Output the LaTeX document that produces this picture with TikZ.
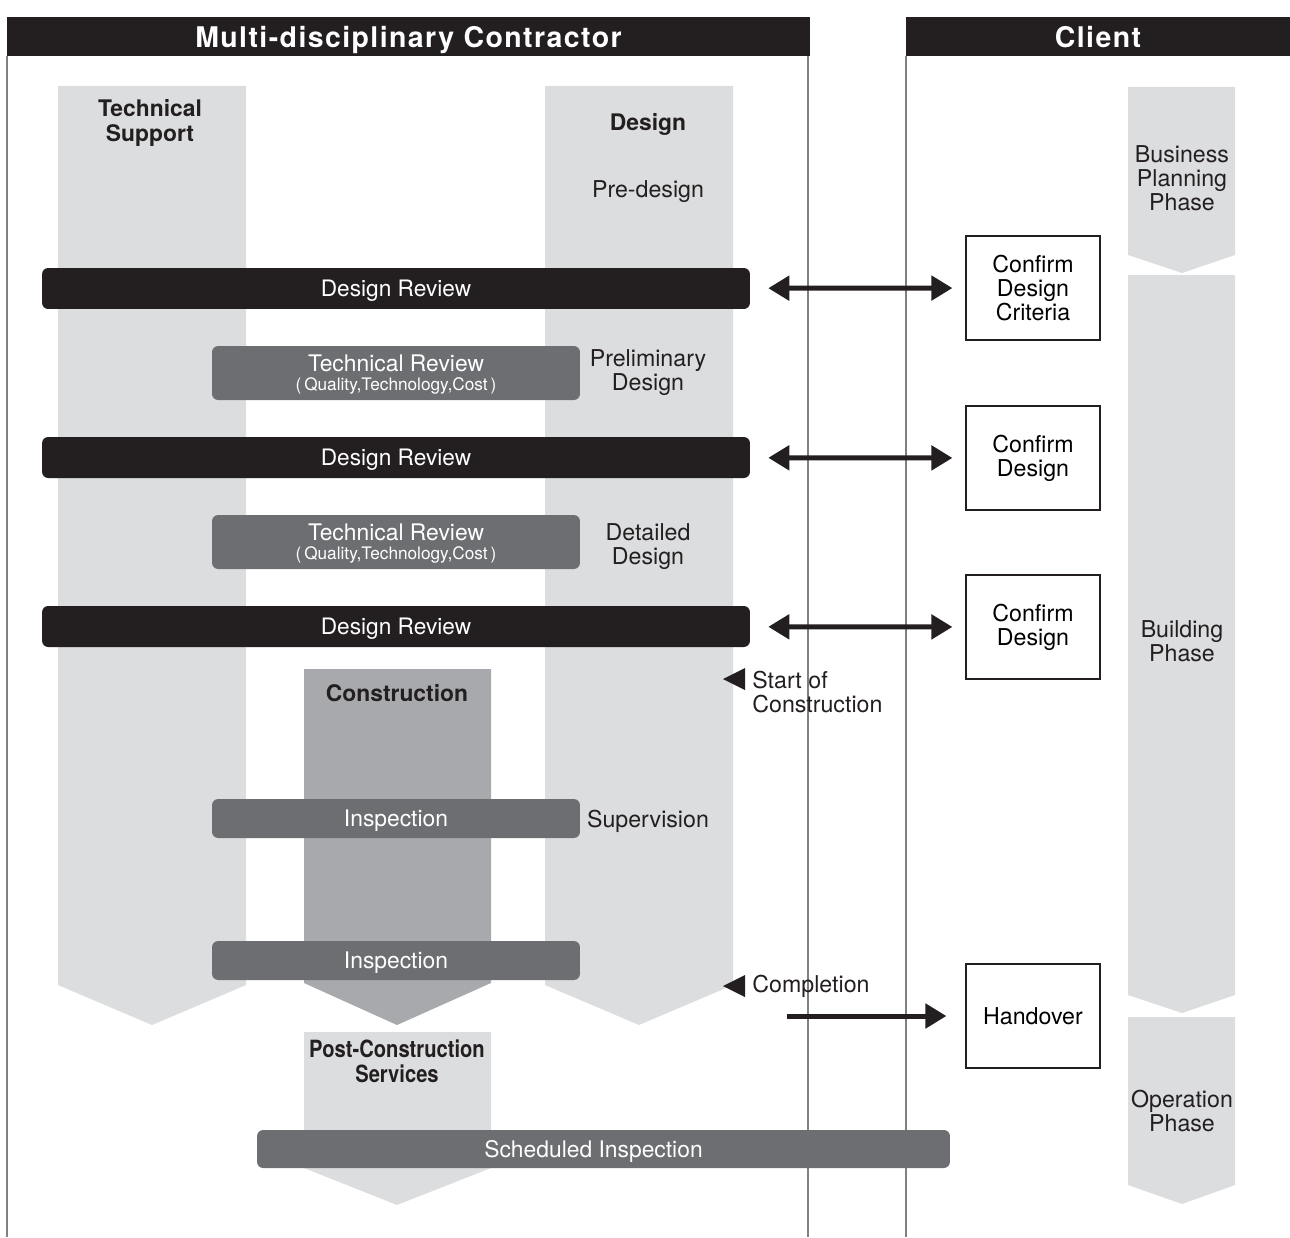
\documentclass[tikz,border=0pt]{standalone}
\usepackage{fontspec}
\setmainfont{TeX Gyre Heros}
\newfontfamily\headfont[LetterSpace=5]{TeX Gyre Heros}
\newfontfamily\condfont[FakeStretch=0.85]{TeX Gyre Heros}
\usetikzlibrary{arrows.meta, positioning}

\definecolor{inkblack}{HTML}{231F20}
\definecolor{lanegray}{HTML}{DCDDDF}
\definecolor{buildgray}{HTML}{A7A9AC}
\definecolor{boxgray}{HTML}{6D6E71}
\definecolor{rulegray}{HTML}{808080}

\begin{document}
\begin{tikzpicture}[
    x=0.02cm, y=-0.02cm,
    header/.style={fill=inkblack, text=white, inner sep=0, text depth=0pt, minimum height=0.78cm, font=\headfont\bfseries\fontsize{16.2}{18}\selectfont},
    lane/.style={fill=lanegray},
    buildlane/.style={fill=buildgray},
    review/.style={fill=inkblack, rounded corners=3.5pt, inner sep=0, text depth=0pt, minimum width=14.16cm, minimum height=0.82cm, text=white, font=\fontsize{12.9}{14}\selectfont},
    techbox/.style={fill=boxgray, rounded corners=3.5pt, inner sep=0, text depth=0pt, minimum width=7.36cm, text=white, align=center, font=\fontsize{13}{12}\selectfont},
    clientbox/.style={draw=inkblack, line width=0.7pt, fill=white, inner sep=0, minimum width=2.68cm, minimum height=2.08cm, align=center, font=\fontsize{13.2}{13.7}\selectfont},
    label/.style={text=inkblack, align=center, inner sep=0, font=\fontsize{13.2}{13.7}\selectfont},
    boldlabel/.style={label, font=\bfseries\fontsize{13}{13.7}\selectfont},
    dblarrow/.style={{Triangle[length=0.42cm,width=0.48cm]}-{Triangle[length=0.42cm,width=0.48cm]}, line width=0.1cm, draw=inkblack},
    onearrow/.style={-{Triangle[length=0.42cm,width=0.48cm]}, line width=0.1cm, draw=inkblack},
    milestone/.style={fill=inkblack}
]
    \useasboundingbox (0,0) rectangle (1290,1237);

    % Headers and dividers
    \node[header, minimum width=16.06cm] (contractor) at (408.5,36.5) {Multi-disciplinary Contractor};
    \node[header, minimum width=7.68cm] (client) at (1098,36.5) {Client};
    \draw[rulegray, line width=0.6pt] (7,56) -- (7,1237);
    \draw[rulegray, line width=0.6pt] (808,56) -- (808,1237);
    \draw[rulegray, line width=0.6pt] (906,56) -- (906,1237);

    % Lanes
    \fill[lane] (58,86) -- (246,86) -- (246,985) -- (152,1025) -- (58,985) -- cycle;
    \fill[lane] (545,86) -- (733,86) -- (733,985) -- (639,1025) -- (545,985) -- cycle;
    \fill[buildlane] (304,669) -- (491,669) -- (491,983) -- (397,1025) -- (304,983) -- cycle;
    \fill[lane] (304,1032) -- (491,1032) -- (491,1168) -- (397,1205) -- (304,1168) -- cycle;
    \fill[lane] (1128,87) -- (1235,87) -- (1235,255) -- (1182,273) -- (1128,255) -- cycle;
    \fill[lane] (1128,275) -- (1235,275) -- (1235,995) -- (1182,1013) -- (1128,995) -- cycle;
    \fill[lane] (1128,1017) -- (1235,1017) -- (1235,1185) -- (1182,1204) -- (1128,1185) -- cycle;

    % Lane labels
    \node[boldlabel] (support) at (150,123) {Technical\\Support};
    \node[boldlabel] (design) at (648,124) {Design};
    \node[label] (predesign) at (648,192) {Pre-design};
    \node[label] (preliminary) at (648,373) {Preliminary\\Design};
    \node[label] (detailed) at (648,547) {Detailed\\Design};
    \node[label] (supervision) at (648,821) {Supervision};
    \node[boldlabel] (construction) at (397,693) {Construction};
    \node[label, font=\condfont\bfseries\fontsize{13.5}{14}\selectfont] (postcon) at (397,1061) {Post-Construction\\Services};
    \node[label] (business) at (1182,178) {Business\\Planning\\Phase};
    \node[label] (building) at (1182,641) {Building\\Phase};
    \node[label] (operation) at (1182,1111) {Operation\\Phase};

    % Reviews
    \node[review] (dr1) at (396,288.5) {Design Review};
    \node[review] (dr2) at (396,457.5) {Design Review};
    \node[review] (dr3) at (396,626.5) {Design Review};
    \node[techbox, minimum height=1.08cm] (tr1) at (396,373) {Technical Review\\[-1pt]{\fontsize{9.8}{10}\selectfont(\,Quality,Technology,Cost\,)}};
    \node[techbox, minimum height=1.08cm] (tr2) at (396,542) {Technical Review\\[-1pt]{\fontsize{9.8}{10}\selectfont(\,Quality,Technology,Cost\,)}};
    \node[techbox, minimum height=0.78cm] (insp1) at (396,818.5) {Inspection};
    \node[techbox, minimum height=0.78cm] (insp2) at (396,960.5) {Inspection};
    \node[techbox, minimum width=13.86cm, minimum height=0.76cm] (scheduled) at (603.5,1149) {Scheduled Inspection\hspace*{0.4cm}};

    % Client side
    \node[clientbox] (criteria) at (1033,288) {Confirm\\Design\\Criteria};
    \node[clientbox] (confirm1) at (1033,458) {Confirm\\Design};
    \node[clientbox] (confirm2) at (1033,627) {Confirm\\Design};
    \node[clientbox] (handover) at (1033,1016) {Handover};

    % Milestones
    \fill[milestone] (723,679) -- (745,668) -- (745,690) -- cycle;
    \node[label, align=left, anchor=west] (start) at (752,692) {Start of\\Construction};
    \fill[milestone] (723,986) -- (745,975) -- (745,997) -- cycle;
    \node[label, anchor=west] (completion) at (752,986) {Completion};
    \coordinate (handstart) at (787,1016);

    % Arrows
    \draw[dblarrow, shorten <=0.36cm, shorten >=0.26cm] (dr1) -- (criteria);
    \draw[dblarrow, shorten <=0.36cm, shorten >=0.26cm] (dr2) -- (confirm1);
    \draw[dblarrow, shorten <=0.36cm, shorten >=0.26cm] (dr3) -- (confirm2);
    \draw[onearrow, shorten >=0.38cm] (handstart) -- (handover);
\end{tikzpicture}
\end{document}
